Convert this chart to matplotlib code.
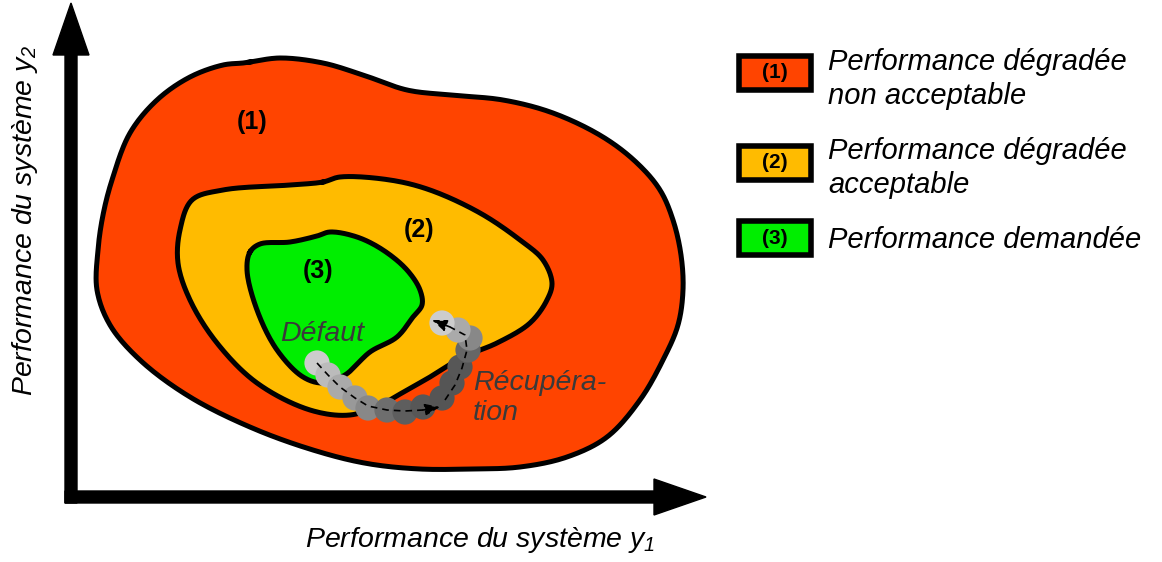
import matplotlib.pyplot as plt
import numpy as np

plt.rcParams['mathtext.fontset'] = 'custom'
plt.rcParams['mathtext.it'] = 'Liberation Sans:italic'
plt.rcParams['mathtext.rm'] = 'Liberation Sans:italic'

# outlines of the three zones (image pixels, y downwards)
zone1_x = [250, 280, 323, 363, 407, 450, 503, 553, 603, 637, 660, 673, 681, 683, 678, 663, 640, 607, 567, 520, 470, 420, 370, 323, 257, 190, 140, 110, 97, 98, 103, 112, 130, 157, 190, 223, 243]
zone1_y = [62, 58, 63, 75, 90, 95, 100, 113, 137, 163, 190, 220, 255, 290, 325, 360, 400, 437, 457, 467, 469, 469, 464, 453, 430, 397, 360, 325, 290, 250, 215, 180, 133, 100, 77, 65, 63]
zone2_x = [323, 340, 390, 430, 480, 520, 543, 552, 547, 530, 497, 463, 430, 407, 380, 350, 310, 257, 217, 190, 178, 180, 192, 223, 290]
zone2_y = [182, 177, 180, 190, 213, 240, 260, 283, 300, 323, 343, 357, 377, 390, 405, 415, 410, 383, 343, 300, 263, 230, 200, 190, 185]
zone3_x = [250, 260, 290, 317, 330, 357, 383, 407, 420, 422, 413, 397, 370, 345, 323, 303, 277, 257, 247]
zone3_y = [252, 244, 242, 236, 232, 237, 250, 270, 290, 305, 317, 337, 352, 375, 383, 377, 350, 310, 270]
zone_colors = ['#FF4400', '#FFBB00', '#00EE00']
zone_labels = ['(1)', '(2)', '(3)']
zone_label_pos = [(252, 122), (419, 230), (318, 271)]

# trajectory after the fault
traj_x = [317, 328, 340, 355, 368, 387, 405, 423, 442, 452, 460, 468, 470, 458, 442]
traj_y = [363, 375, 387, 398, 408, 410, 412, 407, 398, 383, 367, 350, 338, 330, 323]
traj_gray = ['#CCCCCC', '#BBBBBB', '#AAAAAA', '#999999', '#888888', '#6E6E6E', '#5E5E5E', '#575757', '#555555', '#555555', '#575757', '#666666', '#888888', '#AAAAAA', '#CCCCCC']
path1_x = [317, 328, 340, 355, 368, 387, 405, 423, 440]
path1_y = [363, 375, 387, 398, 406, 410, 411, 410, 407]
path2_x = [445, 455, 462, 467, 465, 450, 432]
path2_y = [400, 385, 368, 350, 335, 327, 320]

legend_text = ['Performance dégradée\nnon acceptable', 'Performance dégradée\nacceptable', 'Performance demandée']
legend_box_y = [73, 163, 238]
legend_text_y = [79, 168, 240]


def smooth_closed(xs, ys, n=20):
    # centripetal catmull-rom through the outline points
    p = np.column_stack([xs, ys]).astype(float)
    m = len(p)
    out = []
    for i in range(m):
        P = [p[i - 1], p[i], p[(i + 1) % m], p[(i + 2) % m]]
        t = [0.0]
        for k in range(3):
            t.append(t[-1] + np.linalg.norm(P[k + 1] - P[k]) ** 0.5)
        for u in np.linspace(t[1], t[2], n, endpoint=False):
            A1 = (t[1] - u) / (t[1] - t[0]) * P[0] + (u - t[0]) / (t[1] - t[0]) * P[1]
            A2 = (t[2] - u) / (t[2] - t[1]) * P[1] + (u - t[1]) / (t[2] - t[1]) * P[2]
            A3 = (t[3] - u) / (t[3] - t[2]) * P[2] + (u - t[2]) / (t[3] - t[2]) * P[3]
            B1 = (t[2] - u) / (t[2] - t[0]) * A1 + (u - t[0]) / (t[2] - t[0]) * A2
            B2 = (t[3] - u) / (t[3] - t[1]) * A2 + (u - t[1]) / (t[3] - t[1]) * A3
            out.append((t[2] - u) / (t[2] - t[1]) * B1 + (u - t[1]) / (t[2] - t[1]) * B2)
    out.append(out[0])
    return np.array(out)


fig = plt.figure(figsize=(11.62, 5.62), dpi=100)
ax = fig.add_axes([0, 0, 1, 1])
ax.set_xlim(0, 1162)
ax.set_ylim(562, 0)
ax.axis('off')

for zx, zy, c in zip([zone1_x, zone2_x, zone3_x], [zone1_y, zone2_y, zone3_y], zone_colors):
    s = smooth_closed(zx, zy)
    ax.fill(s[:, 0], s[:, 1], color=c, zorder=1)
    ax.plot(s[:, 0], s[:, 1], color='black', lw=3.6, zorder=2)
for lab, (lx, ly) in zip(zone_labels, zone_label_pos):
    ax.text(lx, ly, lab, fontsize=18, fontweight='bold', family='Liberation Sans',
            ha='center', va='center', zorder=3)

# trajectory
ax.scatter(traj_x, traj_y, s=330, c=traj_gray, edgecolors='none', zorder=4)
for px, py in [(path1_x, path1_y), (path2_x, path2_y)]:
    ax.plot(px[:-1], py[:-1], color='black', lw=1.2, ls=(0, (4, 3)), zorder=5)
    ax.annotate('', xy=(px[-1], py[-1]), xytext=(px[-2], py[-2]),
                arrowprops=dict(arrowstyle='-|>,head_length=0.9,head_width=0.35',
                                color='black', lw=1.2, linestyle=(0, (4, 3)),
                                shrinkA=0, shrinkB=0), zorder=5)
ax.text(322, 334, 'Défaut', fontsize=20.5, style='italic', family='Liberation Sans',
        color='#3a3a3a', ha='center', va='center', zorder=6)
ax.text(473, 398, 'Récupéra-\ntion', fontsize=20.5, style='italic', family='Liberation Sans',
        color='#3a3a3a', ha='left', va='center', linespacing=1.25, zorder=6)

# axes arrows
ax.arrow(71, 503, 0, -500, width=12, head_width=36, head_length=52,
         length_includes_head=True, color='black', zorder=7)
ax.arrow(65, 497, 641, 0, width=12, head_width=36, head_length=52,
         length_includes_head=True, color='black', zorder=7)
ax.text(480, 540, 'Performance du système $y_1$', fontsize=20.5, style='italic',
        family='Liberation Sans', ha='center', va='center')
ax.text(25, 220, 'Performance du système $y_2$', fontsize=20.5, style='italic',
        family='Liberation Sans', ha='center', va='center', rotation=90)

# legend
for lab, c, by, ty, txt in zip(zone_labels, zone_colors, legend_box_y, legend_text_y, legend_text):
    ax.add_patch(plt.Rectangle((739, by - 17), 72, 34, facecolor=c, edgecolor='black', lw=4, zorder=3))
    ax.text(775, by, lab, fontsize=15, fontweight='bold', family='Liberation Sans',
            ha='center', va='center', zorder=4)
    ax.text(828, ty, txt, fontsize=21, style='italic', family='Liberation Sans',
            ha='left', va='center', linespacing=1.3)

fig.savefig('out.png', dpi=100)
